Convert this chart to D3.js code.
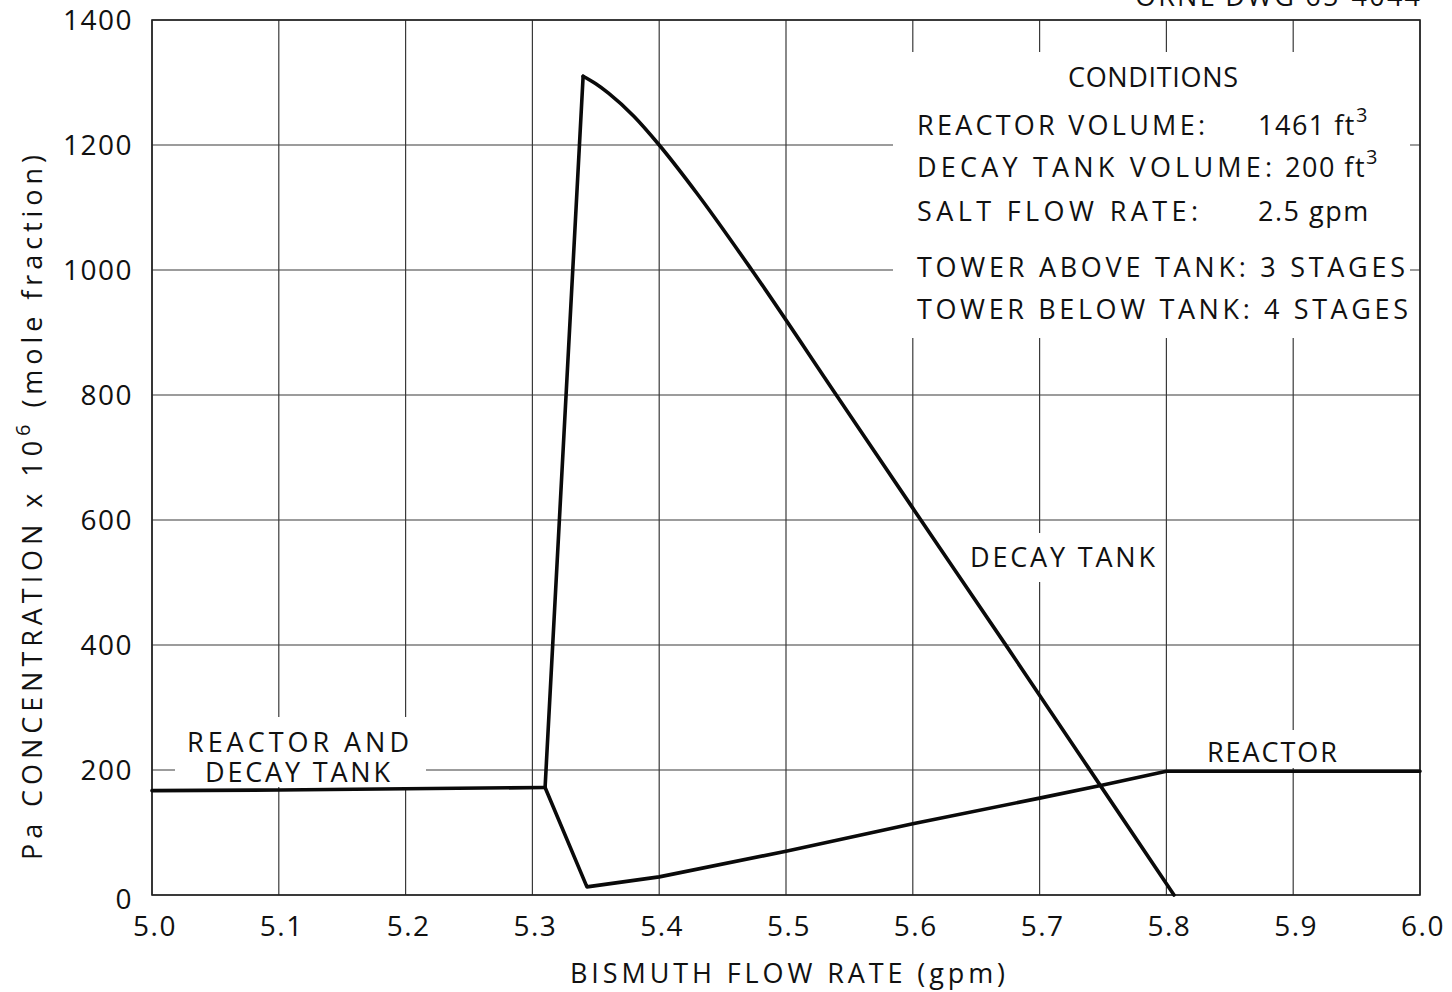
<!DOCTYPE html>
<html>
<head>
<meta charset="utf-8">
<script src="https://cdn.jsdelivr.net/npm/d3@7"></script>
<style>
  html, body { margin: 0; padding: 0; background: #fff; }
  svg { display: block; }
  text { font-family: "Open Sans", "DejaVu Sans", sans-serif; fill: #111; }
</style>
</head>
<body>
<svg id="chart" width="1452" height="992"></svg>
<script>
// ---- data ----
const X_TICKS = [5.0, 5.1, 5.2, 5.3, 5.4, 5.5, 5.6, 5.7, 5.8, 5.9, 6.0];
const Y_TICKS = [0, 200, 400, 600, 800, 1000, 1200, 1400];

// reactor and decay tank together, before the split
const sharedFlow = [5.0, 5.1, 5.2, 5.31];
const sharedConc = [167, 168, 170, 172];

// decay tank: steep rise after the split
const tankRiseFlow = [5.31, 5.34];
const tankRiseConc = [172, 1310];

// decay tank: fall from the peak
const tankFallFlow = [5.34, 5.35, 5.36, 5.38, 5.40, 5.43, 5.473, 5.541, 5.6, 5.675, 5.738, 5.806];
const tankFallConc = [1310, 1298, 1283, 1246, 1200, 1122, 1000, 796, 619, 395, 205, 0];

// reactor branch
const reactorFlow = [5.31, 5.343, 5.4, 5.5, 5.6, 5.7, 5.75, 5.8, 5.9, 6.0];
const reactorConc = [172, 13, 29, 70, 114, 155, 176, 198, 198, 198];

const svg = d3.select("#chart");
const x = d3.scaleLinear().domain([5.0, 6.0]).range([152, 1420]);
const y = d3.scaleLinear().domain([0, 1400]).range([895, 20]);

const toPoints = (xs, ys) => xs.map((v, i) => [v, ys[i]]);

// grid
const grid = svg.append("g").attr("class", "grid");
grid.selectAll("line.v")
    .data(X_TICKS)
    .enter()
    .append("line")
    .attr("class", "v")
    .attr("x1", d => x(d)).attr("x2", d => x(d))
    .attr("y1", y(0)).attr("y2", y(1400))
    .attr("stroke", "#3a3a3a")
    .attr("stroke-width", 1.2);
grid.selectAll("line.h")
    .data(Y_TICKS)
    .enter()
    .append("line")
    .attr("class", "h")
    .attr("x1", x(5.0)).attr("x2", x(6.0))
    .attr("y1", d => y(d)).attr("y2", d => y(d))
    .attr("stroke", "#3a3a3a")
    .attr("stroke-width", 1.2);

// white areas where the lettering interrupts the grid
const masks = [
  [893, 52, 517, 286],   // conditions block
  [175, 717, 251, 70],   // reactor and decay tank
  [962, 533, 202, 49],   // decay tank
  [1188, 730, 160, 38]   // reactor
];
svg.append("g").selectAll("rect")
    .data(masks)
    .enter()
    .append("rect")
    .attr("x", d => d[0]).attr("y", d => d[1])
    .attr("width", d => d[2]).attr("height", d => d[3])
    .attr("fill", "#fff");

// frame
svg.append("rect")
    .attr("x", x(5.0)).attr("y", y(1400))
    .attr("width", x(6.0) - x(5.0)).attr("height", y(0) - y(1400))
    .attr("fill", "none")
    .attr("stroke", "#222")
    .attr("stroke-width", 1.6);

// curves
const straight = d3.line().x(d => x(d[0])).y(d => y(d[1]));
const smooth = d3.line().x(d => x(d[0])).y(d => y(d[1])).curve(d3.curveMonotoneX);
const curves = [
  { pts: toPoints(sharedFlow, sharedConc), gen: straight },
  { pts: toPoints(tankRiseFlow, tankRiseConc), gen: straight },
  { pts: toPoints(tankFallFlow, tankFallConc), gen: smooth },
  { pts: toPoints(reactorFlow, reactorConc), gen: straight }
];
svg.append("g").selectAll("path")
    .data(curves)
    .enter()
    .append("path")
    .attr("d", d => d.gen(d.pts))
    .attr("fill", "none")
    .attr("stroke", "#0a0a0a")
    .attr("stroke-width", 3.6)
    .attr("stroke-linejoin", "round")
    .attr("stroke-linecap", "round");

// tick labels
svg.append("g").selectAll("text")
    .data(X_TICKS)
    .enter()
    .append("text")
    .attr("x", d => x(d) + 3)
    .attr("y", 936)
    .attr("text-anchor", "middle")
    .attr("font-size", 28)
    .attr("letter-spacing", 1.5)
    .text(d => d3.format(".1f")(d));

svg.append("g").selectAll("text")
    .data(Y_TICKS)
    .enter()
    .append("text")
    .attr("x", 133)
    .attr("y", d => y(d) + (d === 0 ? 14 : 10))
    .attr("text-anchor", "end")
    .attr("font-size", 28)
    .attr("letter-spacing", 1.5)
    .text(d => d);

// axis titles
svg.append("text")
    .attr("x", 570).attr("y", 983)
    .attr("font-size", 27)
    .attr("textLength", 435)
    .attr("lengthAdjust", "spacing")
    .text("BISMUTH FLOW RATE (gpm)");

const yTitle = svg.append("text")
    .attr("transform", "translate(42,860) rotate(-90)")
    .attr("font-size", 27)
    .attr("textLength", 705)
    .attr("lengthAdjust", "spacing");
yTitle.append("tspan").text("Pa CONCENTRATION x 10");
yTitle.append("tspan").attr("font-size", 20).attr("dy", -12).text("6");
yTitle.append("tspan").attr("dy", 12).text(" (mole fraction)");

// curve labels
const labels = [
  { t: "REACTOR AND", x: 187, y: 752, w: 222 },
  { t: "DECAY TANK", x: 205, y: 782, w: 185 },
  { t: "DECAY TANK", x: 970, y: 567, w: 185 },
  { t: "REACTOR", x: 1207, y: 762, w: 130 }
];
svg.append("g").selectAll("text")
    .data(labels)
    .enter()
    .append("text")
    .attr("x", d => d.x).attr("y", d => d.y)
    .attr("font-size", 27)
    .attr("textLength", d => d.w)
    .attr("lengthAdjust", "spacing")
    .text(d => d.t);

// conditions block
const cond = svg.append("g").attr("font-size", 27);
cond.append("text").attr("x", 1068).attr("y", 87)
    .attr("textLength", 170).attr("lengthAdjust", "spacing").text("CONDITIONS");

const rows = [
  { left: "REACTOR VOLUME:", lw: 288, right: "1461 ft", rx: 1258, sup: "3", y: 135 },
  { left: "DECAY TANK VOLUME:", lw: 355, right: "200 ft", rx: 1285, sup: "3", y: 177 },
  { left: "SALT FLOW RATE:", lw: 281, right: "2.5 gpm", rx: 1258, sup: null, y: 221 },
  { left: "TOWER ABOVE TANK: 3 STAGES", lw: 488, right: null, y: 277 },
  { left: "TOWER BELOW TANK: 4 STAGES", lw: 491, right: null, y: 319 }
];
rows.forEach(r => {
  cond.append("text").attr("x", 917).attr("y", r.y)
      .attr("textLength", r.lw).attr("lengthAdjust", "spacing").text(r.left);
  if (r.right) {
    const t = cond.append("text").attr("x", r.rx).attr("y", r.y).attr("letter-spacing", 1.5);
    t.append("tspan").text(r.right);
    if (r.sup) t.append("tspan").attr("font-size", 20).attr("dy", -13).text(r.sup);
  }
});

// drawing number, cut at the top edge
svg.append("text")
    .attr("x", 1135).attr("y", 6)
    .attr("font-size", 27)
    .attr("textLength", 285)
    .attr("lengthAdjust", "spacing")
    .text("ORNL DWG 65-4044");
</script>
</body>
</html>
